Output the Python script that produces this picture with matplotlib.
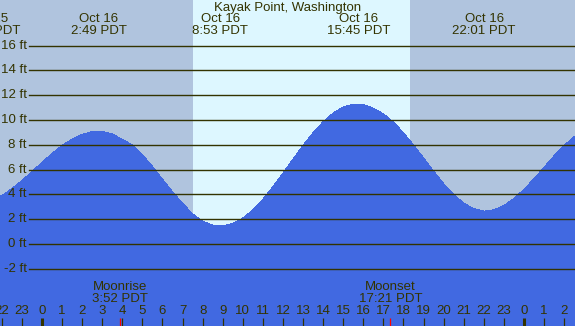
import numpy as np
import matplotlib
matplotlib.use('Agg')
import matplotlib.pyplot as plt
from matplotlib.transforms import blended_transform_factory

# -------------------------------
# Chart data (hours from midnight Oct 16, heights in ft)
# -------------------------------
station = 'Kayak Point, Washington'

tide_hours = np.arange(-2.5, 27.01, 0.5)
tide_heights = [3.50, 3.91, 4.46, 5.12, 5.84, 6.58, 7.30, 7.94, 8.47, 8.85,
                9.06, 9.08, 8.87, 8.45, 7.99, 7.20, 6.27, 5.23, 4.21, 3.28,
                2.44, 1.84, 1.52, 1.46, 1.65, 2.09, 2.76, 3.62, 4.62, 5.72,
                6.85, 7.96, 8.98, 9.87, 10.56, 11.05, 11.28, 11.25, 10.96, 10.50,
                9.84, 8.97, 8.00, 6.94, 5.88, 4.87, 4.00, 3.30, 2.85, 2.65,
                2.76, 3.11, 3.67, 4.41, 5.27, 6.19, 7.11, 7.95, 8.67, 9.20]

extreme_hours = [-2.66, 2.817, 8.883, 15.75, 22.017]
extreme_labels = ['Oct 15\n21:20 PDT', 'Oct 16\n2:49 PDT', 'Oct 16\n8:53 PDT',
                  'Oct 16\n15:45 PDT', 'Oct 16\n22:01 PDT']

sunrise = 7.5
sunset = 18.33

moon_hours = [3.867, 17.35]
moon_labels = ['Moonrise\n3:52 PDT', 'Moonset\n17:21 PDT']

grid_ft = [-2, 0, 2, 4, 6, 8, 10, 12, 14, 16]
hour_ticks = list(range(-2, 27))

# -------------------------------
# Styling
# -------------------------------
night = '#B0C4DE'
day = '#DDF7FF'
water = '#4169E1'
ink = '#333300'
W, H = 575, 326
x_lo, x_hi = -2.09, 26.54
y_lo, y_hi = -6.61, 19.68
fs = 9.5

plt.rcParams['font.family'] = ['Liberation Sans', 'DejaVu Sans']

fig = plt.figure(figsize=(W / 100, H / 100), dpi=100)
ax = fig.add_axes([0, 0, 1, 1])
ax.set_xlim(x_lo, x_hi)
ax.set_ylim(y_lo, y_hi)
ax.axis('off')
fig.patch.set_facecolor(night)
ax.set_facecolor(night)

xt = blended_transform_factory(ax.transData, ax.transAxes)
yt = blended_transform_factory(ax.transAxes, ax.transData)

def fy(px):
    # pixel row from top -> axes fraction
    return 1 - px / H

# day / night background
ax.axvspan(x_lo - 5, x_hi + 5, color=night, lw=0, zorder=0)
ax.axvspan(sunrise, sunset, color=day, lw=0, zorder=1)

# water
ax.fill_between(tide_hours, tide_heights, y_lo - 5, color=water, lw=0,
                antialiased=False, zorder=2)

# grid lines and labels
for ft in grid_ft:
    ax.axhline(ft, xmin=29 / W, xmax=1, color=ink, lw=1.0, zorder=3)
    ax.text(27 / W, ft, f'{ft} ft', transform=yt, ha='right', va='center',
            fontsize=fs, color=ink, zorder=4)

# title and tide times
ax.text(0.5, fy(8), station, transform=ax.transAxes, ha='center',
        va='center', fontsize=fs, color=ink, zorder=4)
for hr, lab in zip(extreme_hours, extreme_labels):
    ax.text(hr, fy(25), lab, transform=xt, ha='center', va='center',
            fontsize=fs, color=ink, linespacing=0.95, zorder=4)

# hour ticks
for hr in hour_ticks:
    midnight = hr % 24 == 0
    ax.plot([hr, hr], [0, fy(318)], transform=xt, color=ink,
            lw=2.2 if midnight else 0.9, solid_capstyle='butt', zorder=4)
    ax.text(hr, fy(311), str(hr % 24), transform=xt, ha='center',
            va='center', fontsize=fs, color=ink, zorder=4)

# moon events
for hr, lab in zip(moon_hours, moon_labels):
    ax.plot([hr, hr], [0, fy(318)], transform=xt, color='red', lw=0.9,
            solid_capstyle='butt', zorder=5)
    ax.text(hr, fy(293), lab, transform=xt, ha='center', va='center',
            fontsize=fs, color=ink, linespacing=0.95, zorder=4)

fig.savefig('out.png', dpi=100, facecolor=night)
